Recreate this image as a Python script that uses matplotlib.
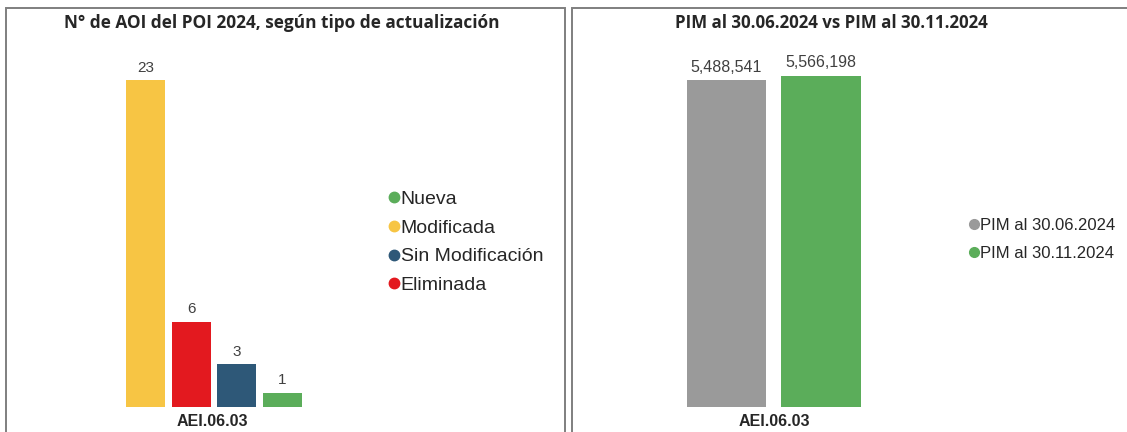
"""Two-panel bar chart: AOI por tipo de actualización y PIM."""

import matplotlib

matplotlib.use("Agg")
import matplotlib.pyplot as plt
from matplotlib.lines import Line2D
from matplotlib.patches import Rectangle

W, H = 1127, 432
DPI = 100

# data
aoi_tipos = ["Modificada", "Eliminada", "Sin Modificación", "Nueva"]
aoi_valores = [23, 6, 3, 1]
aoi_legend_order = ["Nueva", "Modificada", "Sin Modificación", "Eliminada"]

pim_series = ["PIM al 30.06.2024", "PIM al 30.11.2024"]
pim_valores = [5488541, 5566198]

categoria = "AEI.06.03"

COLORS = {
    "Nueva": "#5BAD5A",
    "Modificada": "#F7C544",
    "Sin Modificación": "#2E5878",
    "Eliminada": "#E3191F",
    "PIM al 30.06.2024": "#9A9A9A",
    "PIM al 30.11.2024": "#5BAD5A",
}
TEXT_DARK = "#262626"
LABEL_GRAY = "#404040"

plt.rcParams["font.family"] = ["Liberation Sans", "DejaVu Sans"]


def px_axes(fig, left, top, width, height):
    """Add axes given pixel coords measured from the top-left corner."""
    return fig.add_axes([left / W, (H - top - height) / H, width / W, height / H])


def clean(ax):
    for s in ax.spines.values():
        s.set_visible(False)
    ax.set_xticks([])
    ax.set_yticks([])
    ax.patch.set_alpha(0)


fig = plt.figure(figsize=(W / DPI, H / DPI), dpi=DPI)

# panel frames
for x0, x1 in [(6, 565), (572, 1140)]:
    fig.patches.append(
        Rectangle((x0 / W, -0.1), (x1 - x0) / W, (H - 8) / H + 0.1,
                  transform=fig.transFigure, fill=False,
                  edgecolor="#7F7F7F", linewidth=1.4)
    )

# ---- left panel
pitch = 45.7
ax1 = px_axes(fig, 145.5 - pitch / 2, 407 - 355, 4 * pitch, 355)
xs = range(len(aoi_tipos))
ax1.bar(xs, aoi_valores, width=0.855,
        color=[COLORS[t] for t in aoi_tipos])
ax1.set_xlim(-0.5, len(aoi_tipos) - 0.5)
ax1.set_ylim(0, 25)
for x, v in zip(xs, aoi_valores):
    ax1.annotate(str(v), (x, v), xytext=(0, 4), textcoords="offset points",
                 ha="center", va="bottom", fontsize=11, color=LABEL_GRAY)
clean(ax1)

fig.text(212 / W, 1 - 421 / H, categoria, ha="center", va="center",
         fontsize=11.5, fontweight="bold", color=TEXT_DARK)
fig.text(282 / W, 1 - 23 / H, "N° de AOI del POI 2024, según tipo de actualización",
         ha="center", va="center", fontsize=12.4, fontweight="bold",
         color=TEXT_DARK, family=["Open Sans", "DejaVu Sans"])

h1 = [Line2D([], [], marker="o", linestyle="none", markersize=7.5,
             markerfacecolor=COLORS[t], markeredgecolor=COLORS[t], label=t)
      for t in aoi_legend_order]
fig.legend(handles=h1, loc="upper left",
           bbox_to_anchor=(390 / W, 1 - 190 / H), frameon=False,
           fontsize=14, handlelength=0.45, handletextpad=0.1,
           labelspacing=0.58, borderaxespad=0, borderpad=0,
           labelcolor=TEXT_DARK)

# ---- right panel
pitch2 = 94.5
ax2 = px_axes(fig, 726.5 - pitch2 / 2, 407 - 357, 2 * pitch2, 357)
xs2 = range(len(pim_series))
ax2.bar(xs2, pim_valores, width=0.84,
        color=[COLORS[s] for s in pim_series])
ax2.set_xlim(-0.5, len(pim_series) - 0.5)
ax2.set_ylim(0, 6.0e6)
for x, v in zip(xs2, pim_valores):
    ax2.annotate(f"{v:,}", (x, v), xytext=(0, 4), textcoords="offset points",
                 ha="center", va="bottom", fontsize=11.5, color=LABEL_GRAY)
clean(ax2)

fig.text(774 / W, 1 - 421 / H, categoria, ha="center", va="center",
         fontsize=11.5, fontweight="bold", color=TEXT_DARK)
fig.text(831 / W, 1 - 23 / H, "PIM al 30.06.2024 vs PIM al 30.11.2024",
         ha="center", va="center", fontsize=12.2, fontweight="bold",
         color=TEXT_DARK, family=["Open Sans", "DejaVu Sans"])

h2 = [Line2D([], [], marker="o", linestyle="none", markersize=7,
             markerfacecolor=COLORS[s], markeredgecolor=COLORS[s], label=s)
      for s in pim_series]
fig.legend(handles=h2, loc="upper left",
           bbox_to_anchor=(970 / W, 1 - 218 / H), frameon=False,
           fontsize=12, handlelength=0.5, handletextpad=0.12,
           labelspacing=0.75, borderaxespad=0, borderpad=0,
           labelcolor=TEXT_DARK)

fig.savefig("out.png", dpi=DPI)
